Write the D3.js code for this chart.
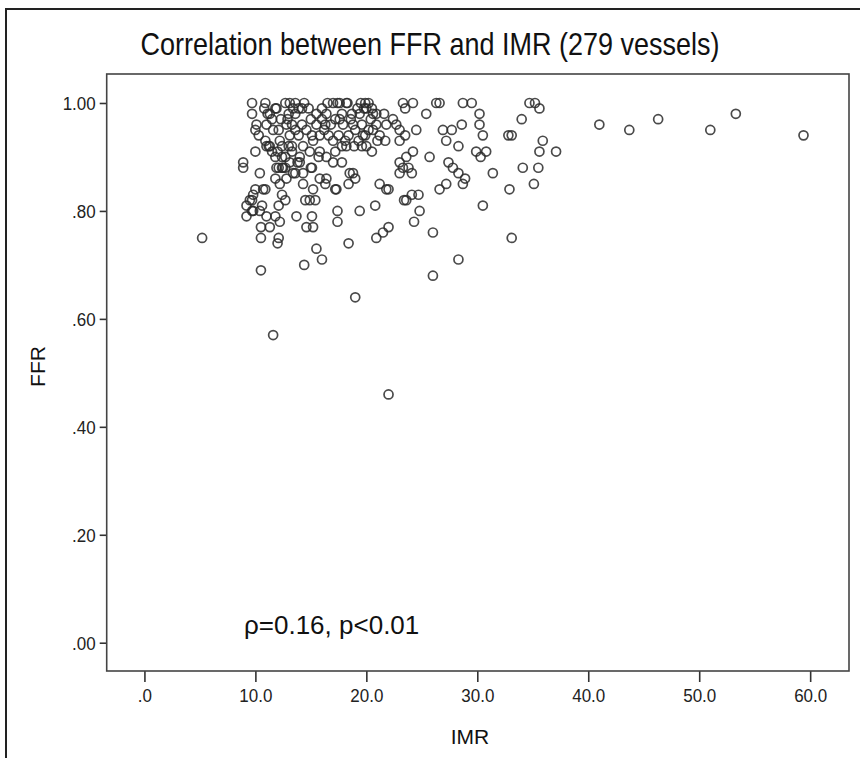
<!DOCTYPE html>
<html>
<head>
<meta charset="utf-8">
<script src="https://cdn.jsdelivr.net/npm/d3@7"></script>
<style>
  body { margin: 0; background: #fff; }
  svg { display: block; font-family: "Liberation Sans", Arial, sans-serif; }
</style>
</head>
<body>
<div class="chart"></div>
<script>
// values: [IMR, FFR]
const leftColumn = [
  [8.9,0.89],[8.9,0.88],[9.2,0.81],[9.5,0.82],[9.8,0.83],[9.8,0.80],[10.6,0.81],[12.1,0.81],
  [9.2,0.79],[9.7,0.80],[10.4,0.80],[11.0,0.79],[11.8,0.79],[12.2,0.78],[10.5,0.77],[11.3,0.77],
  [10.5,0.75],[12.1,0.75],[12.0,0.74]
];
const lowImrTop = [
  [9.7,1.00],[10.9,1.00],[9.7,0.98],[11.3,0.98],[11.9,0.99],[10.1,0.96],[10.0,0.95],[10.3,0.94],
  [11.0,0.96],[11.6,0.95],[10.9,0.93],[11.2,0.92],[12.2,0.93],[12.4,0.92],[10.0,0.91],[11.5,0.91],
  [11.8,0.90],[12.7,0.90],[10.4,0.87],[11.9,0.88],[12.4,0.88],[12.7,0.88],[13.4,0.87],[11.8,0.86],
  [12.8,0.86],[10.7,0.84],[12.2,0.85],[12.4,0.83],[13.7,0.79]
];
const core = [
  [12.7,1.00],[13.1,1.00],[13.6,1.00],[11.8,0.99],[14.2,0.99],[14.8,0.99],[16.0,0.99],[16.5,1.00],
  [17.0,1.00],[17.4,1.00],[18.3,1.00],[11.1,0.98],[13.0,0.98],[13.6,0.98],[15.5,0.98],[16.4,0.98],
  [17.8,0.98],[18.7,0.98],[12.8,0.96],[13.3,0.96],[14.2,0.96],[16.3,0.96],[17.2,0.97],[17.9,0.96],
  [12.1,0.95],[13.1,0.94],[13.9,0.94],[15.1,0.94],[15.8,0.94],[16.6,0.94],[17.5,0.94],[18.4,0.94],
  [11.0,0.92],[11.3,0.92],[13.0,0.92],[13.3,0.92],[14.3,0.92],[12.4,0.90],[13.3,0.91],[14.0,0.90],
  [14.9,0.91],[15.8,0.91],[17.2,0.91],[17.8,0.92],[18.2,0.92],[14.0,0.89],[12.1,0.88],[12.5,0.88],
  [13.6,0.87],[14.3,0.87],[15.1,0.88],[15.8,0.86],[16.4,0.86],[16.3,0.85],[17.2,0.84],[18.5,0.87],
  [18.4,0.85],[10.9,0.84],[10.0,0.84],[9.7,0.82],[12.7,0.82],[14.5,0.82],[14.9,0.82],[15.4,0.82],
  [13.9,0.99],[14.4,1.00],[15.0,0.97],[15.5,0.96],[16.0,0.97],[16.8,0.96],[17.0,0.93],[15.2,0.93],
  [14.6,0.95],[13.6,0.95],[12.9,0.97],[13.4,0.99],[16.2,0.95],[17.6,0.97],[18.6,0.97],[19.2,0.99],
  [19.6,0.96],[20.4,0.97],[21.0,0.93],[20.2,0.95],[18.9,0.92],[19.3,0.93],[16.4,0.90],[17.0,0.89],
  [15.0,0.88],[13.1,0.89],[12.0,0.91],[11.5,0.97],[10.8,0.99],[12.3,0.97],[19.5,1.00],[20.2,1.00],
  [19.8,0.99],[20.5,0.99],[21.6,0.98]
];
const midImr = [
  [17.6,1.00],[18.2,1.00],[19.9,1.00],[20.0,0.99],[20.9,0.98],[23.3,1.00],[24.2,1.00],[23.5,0.99],
  [25.4,0.98],[26.3,1.00],[26.6,1.00],[28.7,1.00],[19.4,0.98],[20.6,0.98],[18.8,0.96],[20.9,0.96],
  [21.8,0.96],[22.4,0.97],[22.7,0.96],[24.5,0.95],[26.9,0.95],[27.7,0.95],[28.6,0.96],[19.0,0.95],
  [19.7,0.94],[20.6,0.95],[21.2,0.94],[23.0,0.95],[23.5,0.94],[21.7,0.93],[23.0,0.93],[27.2,0.93],
  [28.3,0.92],[18.1,0.93],[19.6,0.92],[20.5,0.91],[24.2,0.91],[23.0,0.89],[23.6,0.90],[24.1,0.87],
  [23.0,0.87],[25.7,0.90],[27.4,0.89],[27.8,0.88],[28.3,0.87],[28.9,0.86],[17.8,0.89],[18.8,0.87],
  [19.0,0.86],[21.2,0.85],[21.8,0.84],[22.0,0.84],[26.6,0.84],[27.2,0.85],[24.1,0.83],[24.7,0.83],
  [23.6,0.82]
];
const highImr = [
  [29.5,1.00],[30.2,0.98],[30.2,0.96],[30.5,0.94],[29.9,0.91],[30.3,0.90],[30.8,0.91],[28.7,0.85],
  [30.5,0.81],[34.7,1.00],[35.2,1.00],[35.6,0.99],[34.0,0.97],[32.8,0.94],[33.1,0.94],[35.9,0.93],
  [35.6,0.91],[37.1,0.91],[31.4,0.87],[34.1,0.88],[35.5,0.88],[32.9,0.84],[35.1,0.85]
];
const lowFfr = [
  [19.4,0.80],[20.8,0.81],[24.8,0.80],[17.3,0.84],[15.2,0.84],[13.8,0.89],[14.3,0.85],[15.7,0.90],
  [19.9,0.94],[20.0,0.92],[23.3,0.88],[23.8,0.88],[23.4,0.82],[24.3,0.78],[26.0,0.76],[33.1,0.75],
  [18.4,0.74],[20.9,0.75],[21.5,0.76],[22.0,0.77],[28.3,0.71],[26.0,0.68],[19.0,0.64],[14.6,0.77],
  [15.2,0.77],[15.1,0.79],[17.4,0.80],[17.4,0.78],[15.5,0.73],[16.0,0.71],[14.4,0.70]
];
const farRight = [[41.0,0.96],[43.7,0.95],[46.3,0.97],[51.0,0.95],[53.3,0.98],[59.4,0.94]];
const outliers = [[5.2,0.75],[10.5,0.69],[11.6,0.57],[22.0,0.46]];

const xTicks = [0, 10, 20, 30, 40, 50, 60];
const yTicks = [0, 0.2, 0.4, 0.6, 0.8, 1.0];
const title = "Correlation between FFR and IMR (279 vessels)";
const note = "\u03C1=0.16, p<0.01";

const vessels = [].concat(leftColumn, lowImrTop, core, midImr, highImr, lowFfr, farRight, outliers);

const W = 860, H = 758;
const box = {left: 106.7, right: 849, top: 74, bottom: 671};

const svg = d3.select(".chart").append("svg")
    .attr("width", W)
    .attr("height", H);

// outer frame (only top and left edges are inside the picture)
svg.append("path")
    .attr("d", `M6,${H} V9 H${W}`)
    .attr("fill", "none")
    .attr("stroke", "#222")
    .attr("stroke-width", 2);

const x = d3.scaleLinear().domain([-3.4, 63.5]).range([box.left, box.right]);
const y = d3.scaleLinear().domain([-0.0524, 1.0537]).range([box.bottom, box.top]);

const xAxis = svg.append("g")
    .attr("transform", `translate(0,${box.bottom})`)
    .call(d3.axisBottom(x).tickValues(xTicks).tickSize(11).tickSizeOuter(0)
        .tickFormat(d => d === 0 ? ".0" : d.toFixed(1)));
xAxis.select(".domain").remove();
xAxis.selectAll(".tick line").attr("stroke", "#333").attr("stroke-width", 1.6);
xAxis.selectAll(".tick text")
    .attr("y", 0).attr("dy", 0)
    .attr("transform", "translate(0,31) scale(1,1.12)")
    .attr("font-size", 17).attr("fill", "#222");

const yAxis = svg.append("g")
    .attr("transform", `translate(${box.left},0)`)
    .call(d3.axisLeft(y).tickValues(yTicks).tickSize(7).tickSizeOuter(0)
        .tickFormat(d => d.toFixed(2).replace(/^0/, "")));
yAxis.select(".domain").remove();
yAxis.selectAll(".tick line").attr("stroke", "#333").attr("stroke-width", 1.6);
yAxis.selectAll(".tick text")
    .attr("x", 0).attr("dy", "0.35em")
    .attr("transform", "translate(-11,0) scale(1,1.12)")
    .attr("font-size", 17).attr("fill", "#222");

// plot frame
svg.append("rect")
    .attr("x", box.left).attr("y", box.top)
    .attr("width", box.right - box.left).attr("height", box.bottom - box.top)
    .attr("fill", "none")
    .attr("stroke", "#444")
    .attr("stroke-width", 1.6);

svg.append("g")
    .selectAll("circle")
    .data(vessels)
    .join("circle")
    .attr("cx", d => x(d[0]))
    .attr("cy", d => y(d[1]))
    .attr("r", 4.5)
    .attr("fill", "none")
    .attr("stroke", "#2a2a2a")
    .attr("stroke-opacity", 0.85)
    .attr("stroke-width", 1.7);

svg.append("text")
    .attr("transform", "translate(430,55) scale(1,1.15)")
    .attr("text-anchor", "middle")
    .attr("font-size", 27)
    .attr("fill", "#111")
    .text(title);

svg.append("text")
    .attr("transform", "translate(470,744)")
    .attr("text-anchor", "middle")
    .attr("font-size", 21)
    .attr("fill", "#111")
    .text("IMR");

svg.append("text")
    .attr("transform", `translate(45,${(box.top + box.bottom) / 2 - 6}) rotate(-90)`)
    .attr("text-anchor", "middle")
    .attr("font-size", 21)
    .attr("fill", "#111")
    .text("FFR");

svg.append("text")
    .attr("transform", "translate(244,634)")
    .attr("font-size", 26)
    .attr("fill", "#111")
    .text(note);
</script>
</body>
</html>
